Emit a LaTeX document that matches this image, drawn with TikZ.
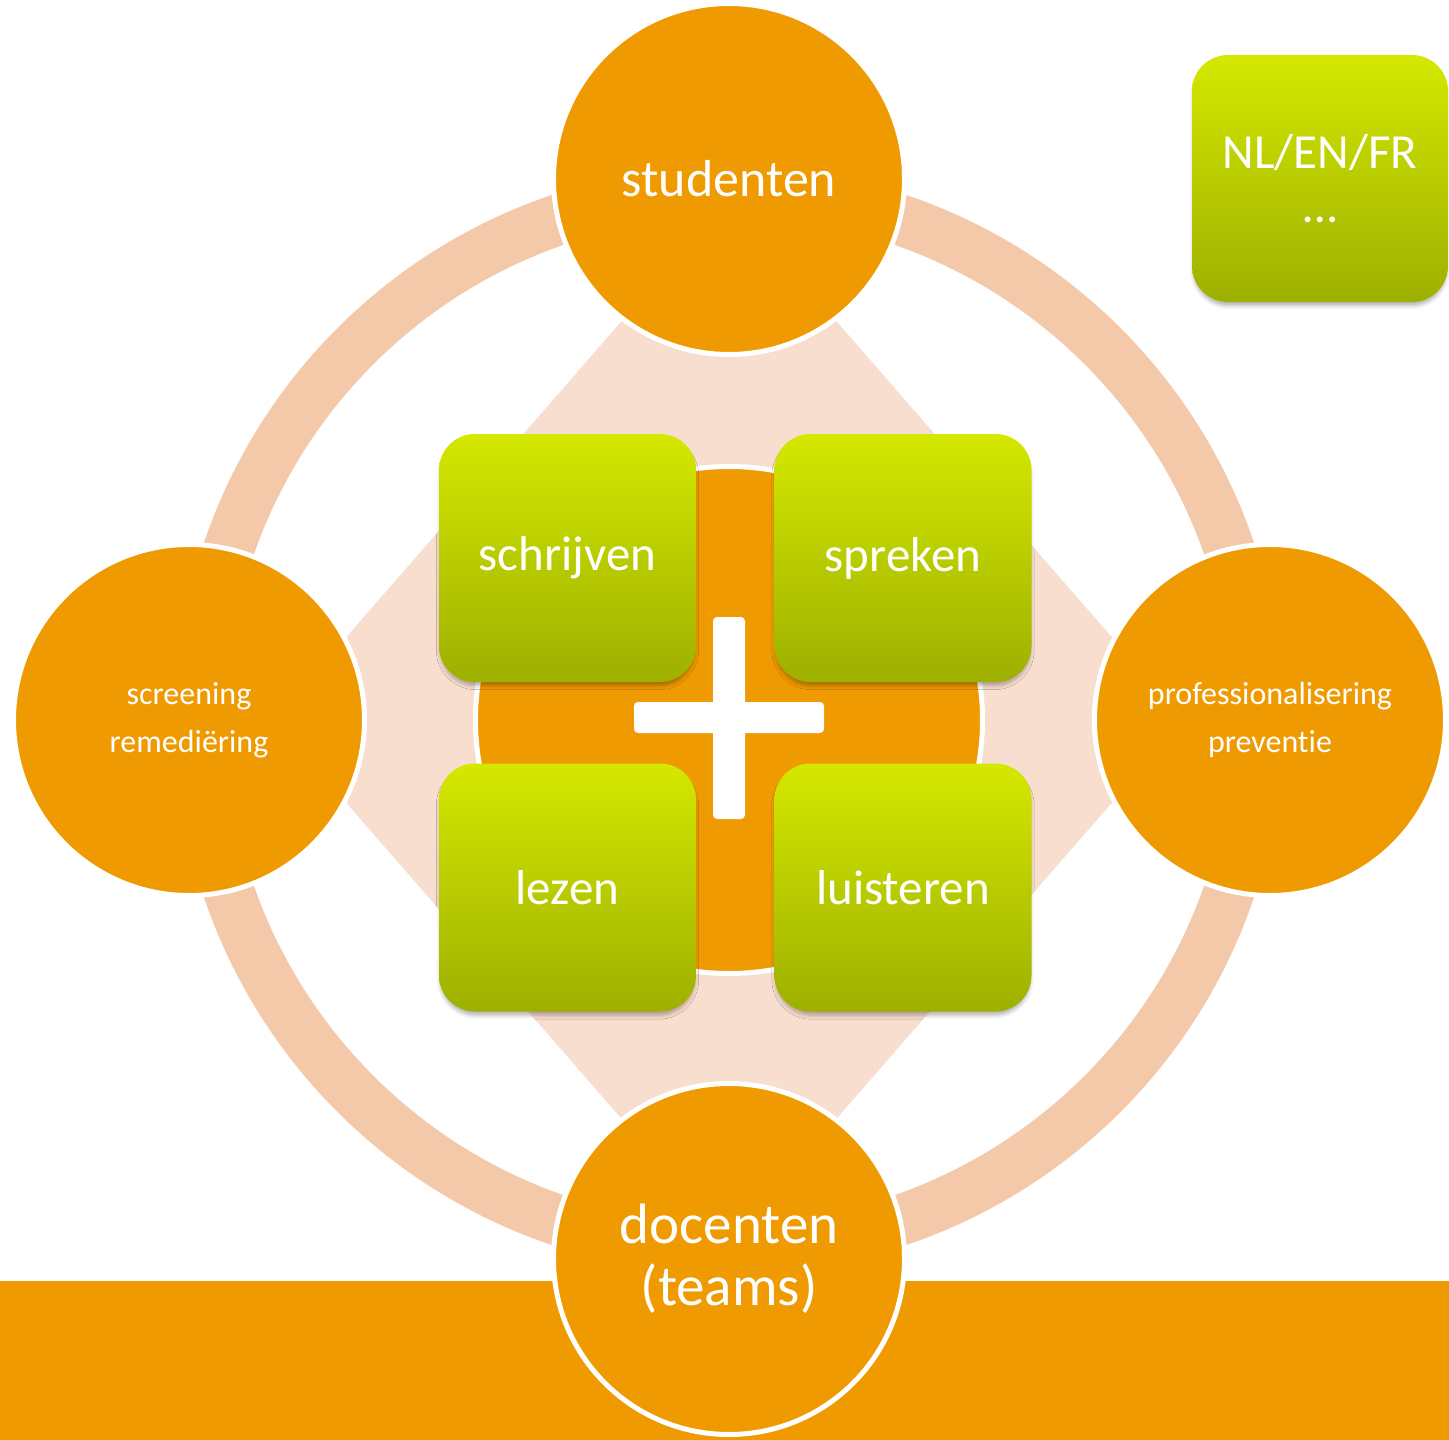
\documentclass[tikz,border=0pt]{standalone}
\usepackage{fontspec}
\setmainfont{Carlito}[Ligatures=NoCommon]
\usetikzlibrary{shadows.blur}
\definecolor{orng}{RGB}{238,154,0}
\definecolor{ringc}{RGB}{244,201,170}
\definecolor{diac}{RGB}{248,222,206}
\definecolor{gtop}{RGB}{212,232,0}
\definecolor{gbot}{RGB}{158,176,0}
\begin{document}
\begin{tikzpicture}[x=1pt,y=-1pt,
  outer/.style={circle, fill=orng, draw=white, line width=5pt, minimum size=351pt, inner sep=0pt, text=white, align=center},
  gbox/.style={rounded corners=36pt, top color=gtop, bottom color=gbot, minimum width=257pt, minimum height=248pt, inner sep=0pt, text=white, align=center, font=\fontsize{49}{54}\selectfont,
    blur shadow={shadow xshift=0pt, shadow yshift=-5pt, shadow blur radius=4pt, shadow scale=0.99, shadow opacity=30}},
  plusbar/.style={fill=white, rounded corners=4pt},
]
\useasboundingbox (0,0) rectangle (1449,1440);
% ring and diamond
\draw[ringc, line width=51pt] (729,720) circle[radius=528.5];
\fill[diac] (729,198) -- (274,720) -- (729,1242) -- (1184,720) -- cycle;
% bottom band
\fill[orng] (0,1281) rectangle (1449,1440);
% outer circles
\node[outer, font=\fontsize{52}{60}\selectfont] (stud) at (729,179) {studenten};
\node[outer, font=\fontsize{32}{48}\selectfont] (scr) at (189,720) {screening\\remediëring};
\node[outer, font=\fontsize{32}{48}\selectfont] (prof) at (1270,720) {professionalisering\\preventie};
\node[outer, font=\fontsize{57}{62}\selectfont] (doc) at (729,1259) {docenten\\(teams)};
% centre circle
\node[circle, fill=orng, draw=white, line width=5pt, minimum size=507pt, inner sep=0pt] (ctr) at (729,720) {};
% plus
\fill[plusbar] (713,617) rectangle (745,819);
\fill[plusbar] (634,702) rectangle (824,733);
% green boxes
\node[gbox] (schr) at (567.5,558) {schrijven};
\node[gbox] (spr) at (903,558) {spreken};
\node[gbox] (lez) at (567.5,887.5) {lezen};
\node[gbox] (lui) at (903,887.5) {luisteren};
\node[gbox, minimum width=256pt, minimum height=247pt] (lang) at (1320,178.5) {NL/EN/FR\\…};
\end{tikzpicture}
\end{document}
